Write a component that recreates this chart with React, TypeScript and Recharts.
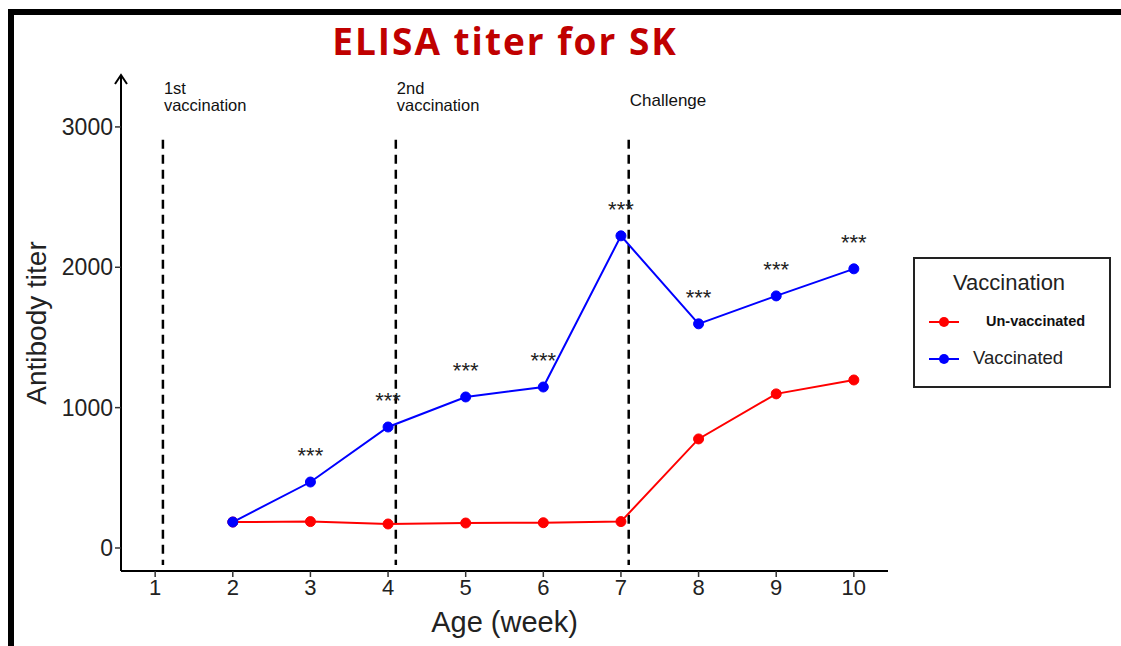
import {
  LineChart,
  Line,
  XAxis,
  YAxis,
  ReferenceLine,
  ReferenceDot,
  LabelList,
} from "recharts";

const weeks = [2, 3, 4, 5, 6, 7, 8, 9, 10];
const vaccinated = [185, 470, 862, 1076, 1147, 2224, 1597, 1796, 1989];
const unvaccinated = [185, 188, 171, 178, 180, 188, 777, 1098, 1197];
const significance = ["", "***", "***", "***", "***", "***", "***", "***", "***"];

const xTicks = [1, 2, 3, 4, 5, 6, 7, 8, 9, 10];
const yTicks = [0, 1000, 2000, 3000];

const events = [
  { week: 1.1, label: ["1st", "vaccination"] },
  { week: 4.1, label: ["2nd", "vaccination"] },
  { week: 7.1, label: ["Challenge"] },
];

const data = weeks.map((w, i) => ({
  week: w,
  vaccinated: vaccinated[i],
  unvaccinated: unvaccinated[i],
  sig: significance[i],
}));

const FONT = "'Liberation Sans', Arial, sans-serif";

function EventLabel(props: any) {
  const { cx, cy, lines } = props;
  if (lines.length === 1) {
    return (
      <text x={cx + 1} y={cy + 8} fontFamily={FONT} fontSize={17} fill="#111">
        {lines[0]}
      </text>
    );
  }
  return (
    <g fontFamily={FONT} fontSize={16.5} fill="#111">
      <text x={cx + 1} y={cy - 4}>{lines[0]}</text>
      <text x={cx + 1} y={cy + 13}>{lines[1]}</text>
    </g>
  );
}

function Arrow(props: any) {
  const { cx, cy } = props;
  return (
    <path
      d={`M${cx - 6},${cy + 9} L${cx},${cy} L${cx + 6},${cy + 9}`}
      fill="none"
      stroke="#000"
      strokeWidth={2}
    />
  );
}

function StarLabel(props: any) {
  const { x, y, value } = props;
  if (!value) return null;
  return (
    <text
      x={x}
      y={y - 19}
      textAnchor="middle"
      fontFamily={FONT}
      fontSize={22}
      fill="#222"
    >
      {value}
    </text>
  );
}

function LegendBox() {
  return (
    <div
      style={{
        position: "absolute",
        left: 913,
        top: 257,
        width: 198,
        height: 131,
        border: "2px solid #222",
        background: "#fff",
        fontFamily: FONT,
        boxSizing: "border-box",
      }}
    >
      <div style={{ position: "absolute", left: 38, top: 11, fontSize: 22, color: "#222" }}>
        Vaccination
      </div>
      <svg width={40} height={100} style={{ position: "absolute", left: 14, top: 48 }}>
        <line x1={0} y1={15} x2={30} y2={15} stroke="#ff0000" strokeWidth={2} />
        <circle cx={15} cy={15} r={5} fill="#ff0000" />
        <line x1={0} y1={52} x2={30} y2={52} stroke="#0000ff" strokeWidth={2} />
        <circle cx={15} cy={52} r={5} fill="#0000ff" />
      </svg>
      <div
        style={{
          position: "absolute",
          left: 71,
          top: 54,
          fontSize: 14.5,
          fontWeight: "bold",
          color: "#111",
        }}
      >
        Un-vaccinated
      </div>
      <div style={{ position: "absolute", left: 58, top: 88, fontSize: 18.5, color: "#222" }}>
        Vaccinated
      </div>
    </div>
  );
}

export default function App() {
  return (
    <div
      style={{
        position: "absolute",
        left: 0,
        top: 0,
        width: 1121,
        height: 646,
        background: "#fff",
        overflow: "hidden",
      }}
    >
      <div
        style={{
          position: "absolute",
          left: 8,
          top: 9,
          width: 1200,
          height: 700,
          borderLeft: "6px solid #000",
          borderTop: "6px solid #000",
        }}
      />
      <div
        style={{
          position: "absolute",
          left: 0,
          top: 15,
          width: 1010,
          textAlign: "center",
          fontFamily: "'Open Sans', Lato, sans-serif",
          fontWeight: "bold",
          fontSize: 37,
          letterSpacing: 2,
          color: "#c00000",
        }}
      >
        ELISA titer for SK
      </div>
      <div style={{ position: "absolute", left: 0, top: 0 }}>
        <LineChart
          width={1121}
          height={646}
          data={data}
          margin={{ top: 75, right: 233, bottom: 45, left: 61 }}
        >
          <XAxis
            dataKey="week"
            type="number"
            domain={[0.56, 10.44]}
            ticks={xTicks}
            allowDataOverflow
            height={30}
            axisLine={{ stroke: "#000", strokeWidth: 2 }}
            tickLine={{ stroke: "#333", strokeWidth: 1.5 }}
            tickSize={6}
            tick={{ fontFamily: FONT, fontSize: 22, fill: "#222" }}
            label={{
              value: "Age (week)",
              position: "insideBottom",
              offset: -31,
              style: { fontFamily: FONT, fontSize: 29, fill: "#222" },
            }}
          />
          <YAxis
            type="number"
            domain={[-164, 3370]}
            ticks={yTicks}
            allowDataOverflow
            width={60}
            axisLine={{ stroke: "#000", strokeWidth: 2 }}
            tickLine={{ stroke: "#333", strokeWidth: 1.5 }}
            tickSize={6}
            tick={{ fontFamily: FONT, fontSize: 23, fill: "#222" }}
            label={{
              value: "Antibody titer",
              angle: -90,
              position: "insideLeft",
              offset: -25,
              style: { fontFamily: FONT, fontSize: 28, fill: "#222", textAnchor: "middle" },
            }}
          />
          <ReferenceDot
            x={0.56}
            y={3370}
            r={0}
            ifOverflow="visible"
            shape={(p: any) => <Arrow {...p} />}
          />
          {events.map((ev) => (
            <ReferenceLine
              key={ev.week}
              segment={[
                { x: ev.week, y: 2908 },
                { x: ev.week, y: -121 },
              ]}
              stroke="#000"
              strokeWidth={2.5}
              strokeDasharray="9 6"
              ifOverflow="visible"
            />
          ))}
          {events.map((ev) => (
            <ReferenceDot
              key={"t" + ev.week}
              x={ev.week}
              y={3207}
              r={0}
              ifOverflow="visible"
              shape={(p: any) => <EventLabel {...p} lines={ev.label} />}
            />
          ))}
          <Line
            dataKey="unvaccinated"
            stroke="#ff0000"
            strokeWidth={2}
            dot={{ r: 5, fill: "#ff0000", stroke: "#ff0000", strokeWidth: 1 }}
            isAnimationActive={false}
          />
          <Line
            dataKey="vaccinated"
            stroke="#0000ff"
            strokeWidth={2}
            dot={{ r: 5, fill: "#0000ff", stroke: "#0000ff", strokeWidth: 1 }}
            isAnimationActive={false}
          >
            <LabelList dataKey="sig" content={(p: any) => <StarLabel {...p} />} />
          </Line>
        </LineChart>
      </div>
      <LegendBox />
    </div>
  );
}
